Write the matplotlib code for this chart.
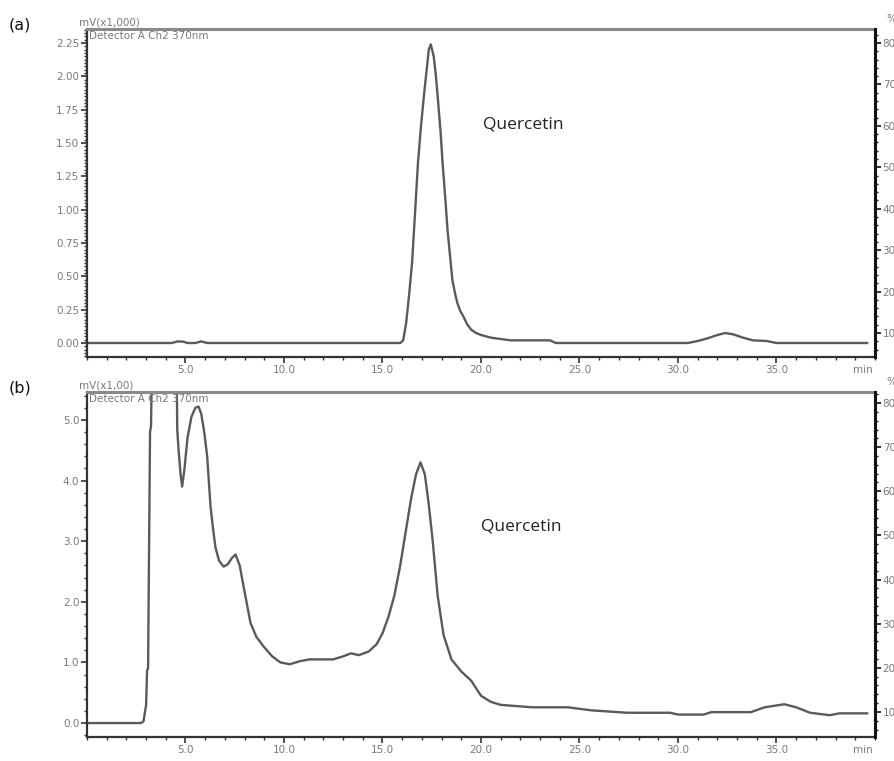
import matplotlib
matplotlib.use("Agg")
import matplotlib.pyplot as plt
from matplotlib.ticker import MultipleLocator, FixedLocator

# ---------------- data ----------------
t_a = [0.0, 4.3, 4.6, 4.9, 5.1, 5.5, 5.8, 6.1, 15.9, 16.05, 16.2, 16.35, 16.5,
       16.65, 16.8, 16.95, 17.1, 17.25, 17.35, 17.45, 17.6, 17.7, 17.8, 17.95,
       18.05, 18.2, 18.3, 18.45, 18.55, 18.7, 18.8, 18.95, 19.1, 19.3, 19.5,
       19.75, 20.0, 20.5, 21.0, 21.5, 23.5, 23.8, 30.5, 31.0, 31.5, 32.0,
       32.4, 32.8, 33.3, 33.8, 34.5, 35.0, 39.6]
v_a = [0.0, 0.0, 0.012, 0.01, 0.0, 0.0, 0.012, 0.0, 0.0, 0.02, 0.15, 0.36, 0.6,
       0.97, 1.35, 1.62, 1.85, 2.06, 2.2, 2.24, 2.15, 2.02, 1.85, 1.58,
       1.35, 1.06, 0.85, 0.62, 0.47, 0.36, 0.3, 0.24, 0.2, 0.14, 0.1,
       0.075, 0.06, 0.04, 0.03, 0.02, 0.02, 0.0, 0.0, 0.015, 0.035, 0.06,
       0.075, 0.065, 0.04, 0.02, 0.015, 0.0, 0.0]

t_b = [0.0, 2.75, 2.87, 3.0, 3.05, 3.1, 3.2, 3.25, 3.3, 4.55, 4.58, 4.65,
       4.75, 4.83, 4.95, 5.1, 5.3, 5.5, 5.66, 5.8, 5.95, 6.1, 6.27, 6.4,
       6.52, 6.7, 6.93, 7.15, 7.35, 7.54, 7.75, 7.95, 8.3, 8.6, 8.97, 9.4,
       9.82, 10.3, 10.8, 11.3, 12.5, 13.0, 13.4, 13.8, 14.3, 14.7, 15.0,
       15.3, 15.6, 15.9, 16.2, 16.45, 16.7, 16.93, 17.15, 17.35, 17.55,
       17.8, 18.1, 18.5, 19.0, 19.5, 20.0, 20.5, 21.0, 22.6, 24.4, 25.6,
       27.4, 29.6, 30.0, 31.3, 31.7, 33.7, 34.4, 35.4, 36.0, 36.7, 37.7,
       38.2, 39.6]
v_b = [0.0, 0.0, 0.03, 0.3, 0.87, 0.9, 4.8, 4.9, 6.0, 6.0, 4.84, 4.5,
       4.1, 3.9, 4.2, 4.7, 5.05, 5.2, 5.22, 5.1, 4.8, 4.4, 3.57, 3.2,
       2.9, 2.68, 2.58, 2.62, 2.72, 2.78, 2.6, 2.25, 1.65, 1.42, 1.26, 1.1,
       1.0, 0.97, 1.02, 1.05, 1.05, 1.1, 1.15, 1.12, 1.18, 1.3, 1.48,
       1.75, 2.1, 2.6, 3.2, 3.7, 4.1, 4.3, 4.1, 3.6, 3.0,
       2.1, 1.45, 1.05, 0.85, 0.7, 0.45, 0.35, 0.3, 0.26, 0.26, 0.21,
       0.17, 0.17, 0.14, 0.14, 0.18, 0.18, 0.26, 0.31, 0.26, 0.17, 0.13,
       0.16, 0.16]

x_major = [5.0, 10.0, 15.0, 20.0, 25.0, 30.0, 35.0]
x_labels = ["5.0", "10.0", "15.0", "20.0", "25.0", "30.0", "35.0"]
ya_ticks = [0.00, 0.25, 0.50, 0.75, 1.00, 1.25, 1.50, 1.75, 2.00, 2.25]
yb_ticks = [0.0, 1.0, 2.0, 3.0, 4.0, 5.0]
pct_ticks = [10, 20, 30, 40, 50, 60, 70, 80]

# ---------------- figure ----------------
W, H = 895, 761
fig = plt.figure(figsize=(W / 100, H / 100), dpi=100)
fig.patch.set_facecolor("white")

TRACE = "#5a5a5a"
AX = "#333333"
LBL = "#7a7a7a"
FS = 7.5

def make_panel(rect, t, v, ylim, yticks, yminor, yfmt, pct_lim, ylabel_txt, tag, qpos):
    ax = fig.add_axes(rect)
    ax.plot(t, v, color=TRACE, lw=1.7, solid_joinstyle="round", clip_on=True)
    ax.set_xlim(0, 40)
    ax.set_ylim(*ylim)
    ax.xaxis.set_major_locator(FixedLocator(x_major))
    ax.xaxis.set_minor_locator(MultipleLocator(1.0))
    ax.set_xticklabels(x_labels)
    ax.set_yticks(yticks)
    ax.set_yticklabels([yfmt.format(y) for y in yticks])
    ax.yaxis.set_minor_locator(MultipleLocator(yminor))
    for s in ["left", "bottom"]:
        ax.spines[s].set_color(AX)
        ax.spines[s].set_linewidth(1.6)
    ax.spines["top"].set_color("#8a8a8a")
    ax.spines["top"].set_linewidth(2.2)
    ax.spines["right"].set_visible(False)
    ax.tick_params(axis="both", which="major", direction="out", length=4,
                   width=1.2, color=AX, labelsize=FS, labelcolor=LBL, pad=1.5)
    ax.tick_params(axis="both", which="minor", direction="out", length=2.5,
                   width=1.0, color=AX)
    ax.tick_params(axis="x", which="major", pad=2)
    ax.annotate("min", xy=(39.4, 0.0), xycoords=("data", "axes fraction"),
                xytext=(0, -6), textcoords="offset points",
                ha="center", va="top", fontsize=FS, color=LBL)
    ax.text(0.003, 0.995, "Detector A Ch2 370nm", transform=ax.transAxes,
            ha="left", va="top", fontsize=FS, color=LBL)
    ax.text(-0.01, 1.005, ylabel_txt, transform=ax.transAxes,
            ha="left", va="bottom", fontsize=FS, color=LBL)
    ax.text(qpos[0], qpos[1], "Quercetin", transform=ax.transAxes,
            ha="left", va="center", fontsize=12.5, color="#222222",
            family="Open Sans")
    fig.text(rect[0] - 0.088, rect[1] + rect[3] + 0.005, tag, fontsize=11.5,
             color="#111111", ha="left", va="center")

    ax2 = ax.twinx()
    ax2.set_ylim(*pct_lim)
    ax2.set_yticks(pct_ticks)
    ax2.set_yticklabels([str(p) for p in pct_ticks])
    ax2.yaxis.set_minor_locator(MultipleLocator(2))
    for s in ["left", "bottom", "top"]:
        ax2.spines[s].set_visible(False)
    ax2.spines["right"].set_color("#111111")
    ax2.spines["right"].set_linewidth(2.2)
    ax2.tick_params(axis="y", which="major", direction="out", length=4,
                    width=1.2, color="#111111", labelsize=FS, labelcolor=LBL,
                    pad=1.5)
    ax2.tick_params(axis="y", which="minor", direction="out", length=2.5,
                    width=1.0, color="#111111")
    ax2.text(1.015, 1.015, "%", transform=ax2.transAxes, ha="left",
             va="bottom", fontsize=FS, color=LBL)
    return ax

left = 87 / W
width = (875 - 87) / W
rect_a = [left, 1 - 357 / H, width, (357 - 29) / H]
rect_b = [left, 1 - 737 / H, width, (737 - 392) / H]

make_panel(rect_a, t_a, v_a, (-0.105, 2.355), ya_ticks, 0.025, "{:.2f}",
           (4.2, 83.4), "mV(x1,000)", "(a)", (0.503, 0.71))
make_panel(rect_b, t_b, v_b, (-0.23, 5.46), yb_ticks, 0.2, "{:.1f}",
           (4.3, 82.5), "mV(x1,00)", "(b)", (0.500, 0.61))

fig.savefig("out.png", dpi=100, facecolor="white")
